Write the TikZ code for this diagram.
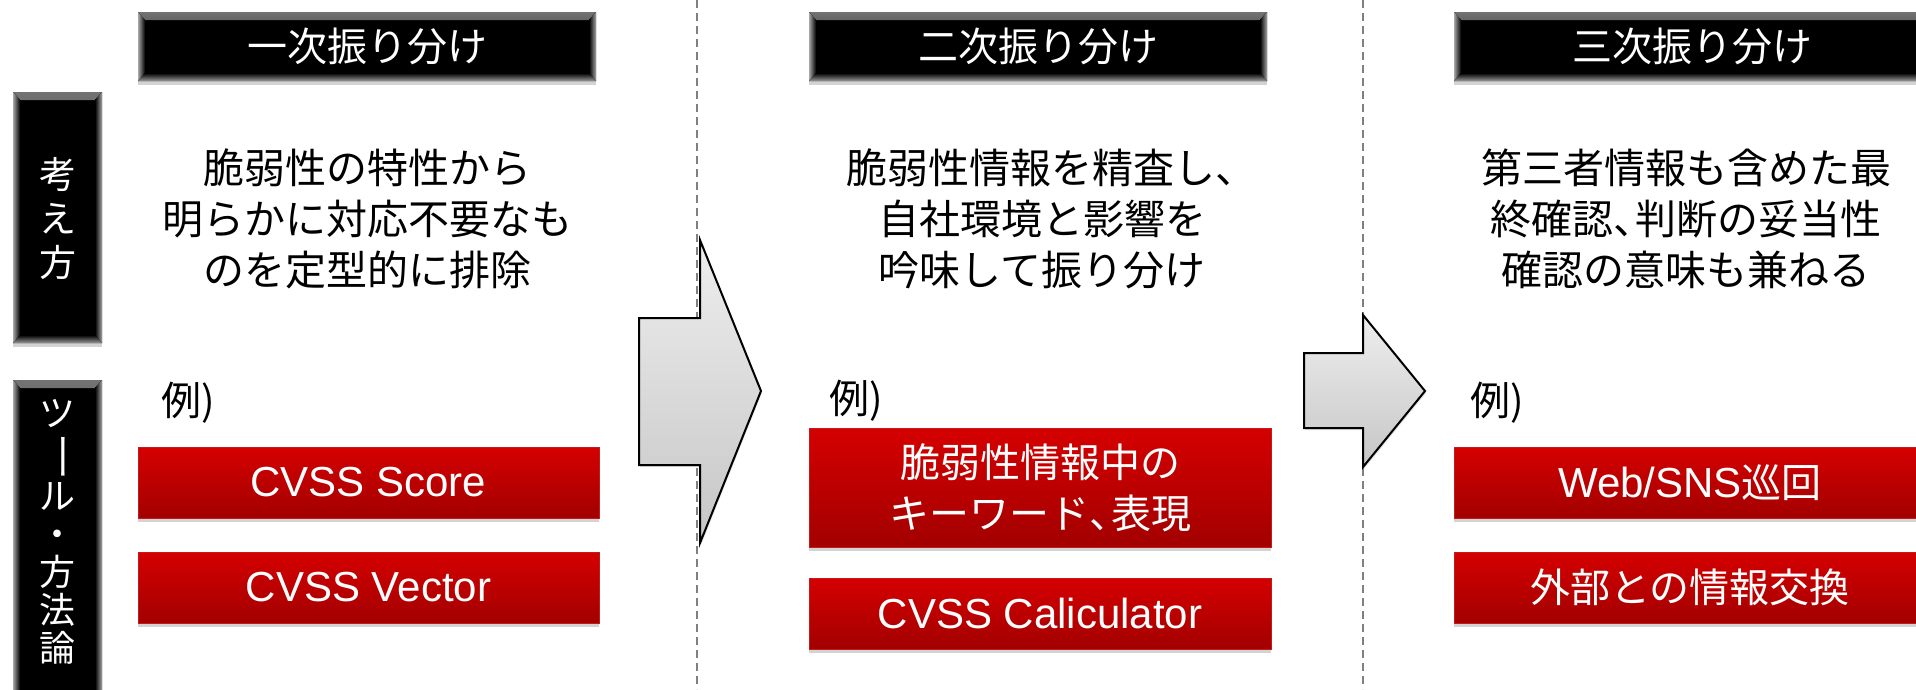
\documentclass[tikz,border=0pt]{standalone}
\usepackage{fontspec}
\setmainfont{Noto Sans CJK JP}
\newfontfamily\lat{Liberation Sans}
\usetikzlibrary{shadows}
\definecolor{rtop}{HTML}{D50000}
\definecolor{rbot}{HTML}{A20000}
\definecolor{rline}{HTML}{C41A1A}
\definecolor{dashgray}{HTML}{808080}
\definecolor{atop}{HTML}{EEEEEE}
\definecolor{abot}{HTML}{C6C6C6}
\newcommand{\tten}{\makebox[0.55em][l]{、}}
\begin{document}
\begin{tikzpicture}[x=1pt,y=-1pt,
  bevel/.style={fill=black, inner sep=0pt,
    drop shadow={opacity=0.35, shadow xshift=0pt, shadow yshift=-4pt},
    path picture={
      \fill[top color=black!55, bottom color=black]
        (path picture bounding box.north west) -- (path picture bounding box.north east)
        -- ([xshift=-7pt,yshift=-8pt]path picture bounding box.north east)
        -- ([xshift=7pt,yshift=-8pt]path picture bounding box.north west) -- cycle;
      \fill[left color=black!35, right color=black]
        (path picture bounding box.north west) -- ([xshift=7pt,yshift=-8pt]path picture bounding box.north west)
        -- ([xshift=7pt,yshift=8pt]path picture bounding box.south west) -- (path picture bounding box.south west) -- cycle;
      \fill[right color=black!35, left color=black]
        (path picture bounding box.north east) -- ([xshift=-7pt,yshift=-8pt]path picture bounding box.north east)
        -- ([xshift=-7pt,yshift=8pt]path picture bounding box.south east) -- (path picture bounding box.south east) -- cycle;
      \fill[bottom color=black!40, top color=black]
        (path picture bounding box.south west) -- (path picture bounding box.south east)
        -- ([xshift=-7pt,yshift=8pt]path picture bounding box.south east)
        -- ([xshift=7pt,yshift=8pt]path picture bounding box.south west) -- cycle;
    }},
  hdr/.style={bevel, text=white, minimum height=69pt, font=\fontsize{40}{48}\selectfont},
  vbox/.style={bevel, minimum width=89pt},
  vtext/.style={text=white, align=center, inner sep=0pt},
  body/.style={align=center, inner sep=0pt, font=\fontsize{41}{51}\selectfont},
  ex/.style={anchor=west, inner sep=0pt, font=\fontsize{40}{48}\selectfont},
  redbox/.style={rectangle, top color=rtop, bottom color=rbot, draw=rline, line width=0.8pt,
    text=white, align=center, inner sep=0pt, minimum height=71pt,
    font=\fontsize{40}{51}\selectfont,
    drop shadow={opacity=0.35, shadow xshift=0pt, shadow yshift=-4pt}},
  sep/.style={draw=dashgray, line width=1.6pt, dash pattern=on 8pt off 5pt},
  arrowshape/.style={top color=atop, bottom color=abot, draw=black, line width=2pt, line join=miter,
    drop shadow={opacity=0.25, shadow xshift=1pt, shadow yshift=-2pt}}
]
\useasboundingbox (0,0) rectangle (1916,689);

% separators
\coordinate (s1t) at (697,0);
\coordinate (s1b) at (697,689);
\coordinate (s2t) at (1363,0);
\coordinate (s2b) at (1363,689);
\draw[sep] (s1t) -- (s1b);
\draw[sep] (s2t) -- (s2b);

% headers
\node[hdr, minimum width=458pt] (h1) at (367,46.5) {一次振り分け};
\node[hdr, minimum width=458pt] (h2) at (1038,46.5) {二次振り分け};
\node[hdr, minimum width=476pt] (h3) at (1692,46.5) {三次振り分け};

% left labels
\node[vbox, minimum height=251pt] (v1) at (57.5,217.5) {};
\node[vtext, font=\fontsize{37}{44}\selectfont] (v1t) at (57.5,219) {考\\え\\方};
\node[vbox, minimum height=330pt] (v2) at (57.5,545) {};
\node[vtext, font=\fontsize{36}{38}\selectfont] (v2t) at (57.5,532)
  {ツ\\\rotatebox[origin=c]{-90}{\scalebox{1.35}[1]{ー}}\\ル\\・\\方\\法\\論};

% body texts
\node[body] (t1) at (367,219) {脆弱性の特性から\\明らかに対応不要なも\\のを定型的に排除};
\node[body] (t2) at (1042,219) {脆弱性情報を精査し\tten\\自社環境と影響を\\吟味して振り分け};
\node[body] (t3) at (1686,219) {第三者情報も含めた最\\終確認\tten 判断の妥当性\\確認の意味も兼ねる};

% examples
\node[ex] (e1) at (161,403) {例)};
\node[ex] (e2) at (829,401) {例)};
\node[ex] (e3) at (1470,403) {例)};

% red boxes
\node[redbox, minimum width=461pt] (r11) at (368.5,482.5) {{\lat\fontsize{42}{51}\selectfont CVSS Score}};
\node[redbox, minimum width=461pt] (r12) at (368.5,587.5) {{\lat\fontsize{42}{51}\selectfont CVSS Vector}};
\node[redbox, minimum width=462pt, minimum height=119pt] (r21) at (1040,487.5) {脆弱性情報中の\\キーワード\tten 表現};
\node[redbox, minimum width=462pt] (r22) at (1040,613.5) {{\lat\fontsize{42}{51}\selectfont CVSS Caliculator}};
\node[redbox, minimum width=472pt] (r31) at (1690,482.5) {{\lat\fontsize{42}{51}\selectfont Web/SNS}巡回};
\node[redbox, minimum width=472pt] (r32) at (1690,587.5) {外部との情報交換};

% block arrows
\draw[arrowshape] (639,318) -- (700,318) -- (700,240) -- (761,391) -- (700,543) -- (700,465) -- (639,465) -- cycle;
\draw[arrowshape] (1304,353) -- (1363,353) -- (1363,315) -- (1425,391) -- (1363,467) -- (1363,428) -- (1304,428) -- cycle;
\end{tikzpicture}
\end{document}
